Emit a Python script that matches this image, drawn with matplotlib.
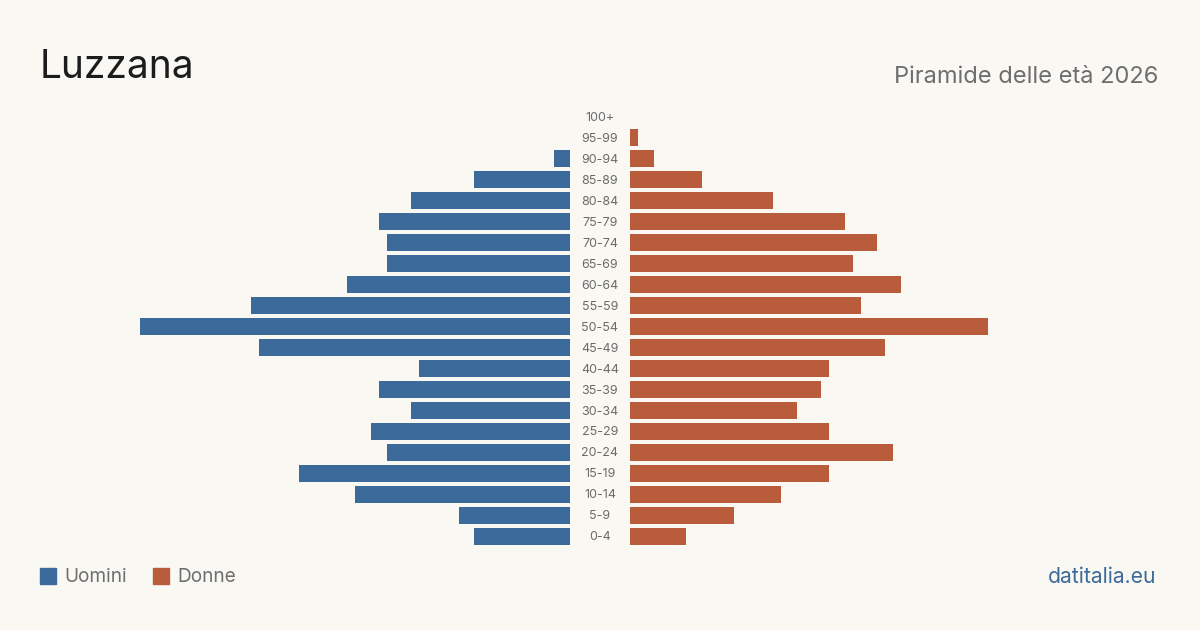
import matplotlib.pyplot as plt
from matplotlib.transforms import blended_transform_factory, offset_copy
from matplotlib.patches import Rectangle

plt.rcParams['font.family'] = ['Inter', 'DejaVu Sans']

fasce = ["100+", "95-99", "90-94", "85-89", "80-84", "75-79", "70-74", "65-69",
         "60-64", "55-59", "50-54", "45-49", "40-44", "35-39", "30-34", "25-29",
         "20-24", "15-19", "10-14", "5-9", "0-4"]
uomini = [0, 0, 2, 12, 20, 24, 23, 23, 28, 40, 54, 39, 19, 24, 20, 25, 23, 34, 27, 14, 12]
donne = [0, 1, 3, 9, 18, 27, 31, 28, 34, 29, 45, 32, 25, 24, 21, 25, 33, 25, 19, 13, 7]

BG = "#f9f8f3"
BLU = "#3b6a9b"
ROSSO = "#b95c3c"
W, H = 1200, 630

fig = plt.figure(figsize=(12, 6.3), dpi=100, facecolor=BG)

xmax = 60
scala = 430 / 54  # pixel per persona
larg = xmax * scala
top_px, bot_px = 106.5, 546.5

def box(x0, x1):
    return [x0 / W, 1 - bot_px / H, (x1 - x0) / W, (bot_px - top_px) / H]

ax_m = fig.add_axes(box(570 - larg, 570))
ax_f = fig.add_axes(box(630, 630 + larg))

pos = list(range(len(fasce)))[::-1]
ax_m.barh(pos, uomini, height=0.81, color=BLU)
ax_f.barh(pos, donne, height=0.81, color=ROSSO)
ax_m.set_xlim(xmax, 0)
ax_f.set_xlim(0, xmax)
for ax in (ax_m, ax_f):
    ax.set_ylim(-0.5, len(fasce) - 0.5)
    ax.axis("off")
    ax.set_facecolor("none")

tr = blended_transform_factory(fig.transFigure, ax_m.transData)
tr = offset_copy(tr, fig=fig, y=-1.2, units="dots")
for p, f in zip(pos, fasce):
    fig.text(600 / W, p, f, transform=tr, ha="center", va="center",
             fontsize=9, color="#6b6b6b")

fig.text(40 / W, 1 - 67 / H, "Luzzana", fontsize=28, color="#1c1c1c",
         ha="left", va="center")
fig.text(1158 / W, 1 - 77 / H, "Piramide delle età 2026", fontsize=17,
         color="#6e6e6e", ha="right", va="center")

# legenda
for x0, col, lab in [(40, BLU, "Uomini"), (153, ROSSO, "Donne")]:
    fig.patches.append(Rectangle((x0 / W, 1 - 584 / H), 16 / W, 16 / H,
                                 transform=fig.transFigure, color=col))
    fig.text((x0 + 24) / W, 1 - 577 / H, lab, fontsize=13.7, color="#6e6e6e",
             ha="left", va="center")

fig.text(1156 / W, 1 - 577 / H, "datitalia.eu", fontsize=15.2, color=BLU,
         ha="right", va="center")

fig.savefig("out.png", dpi=100, facecolor=BG)
